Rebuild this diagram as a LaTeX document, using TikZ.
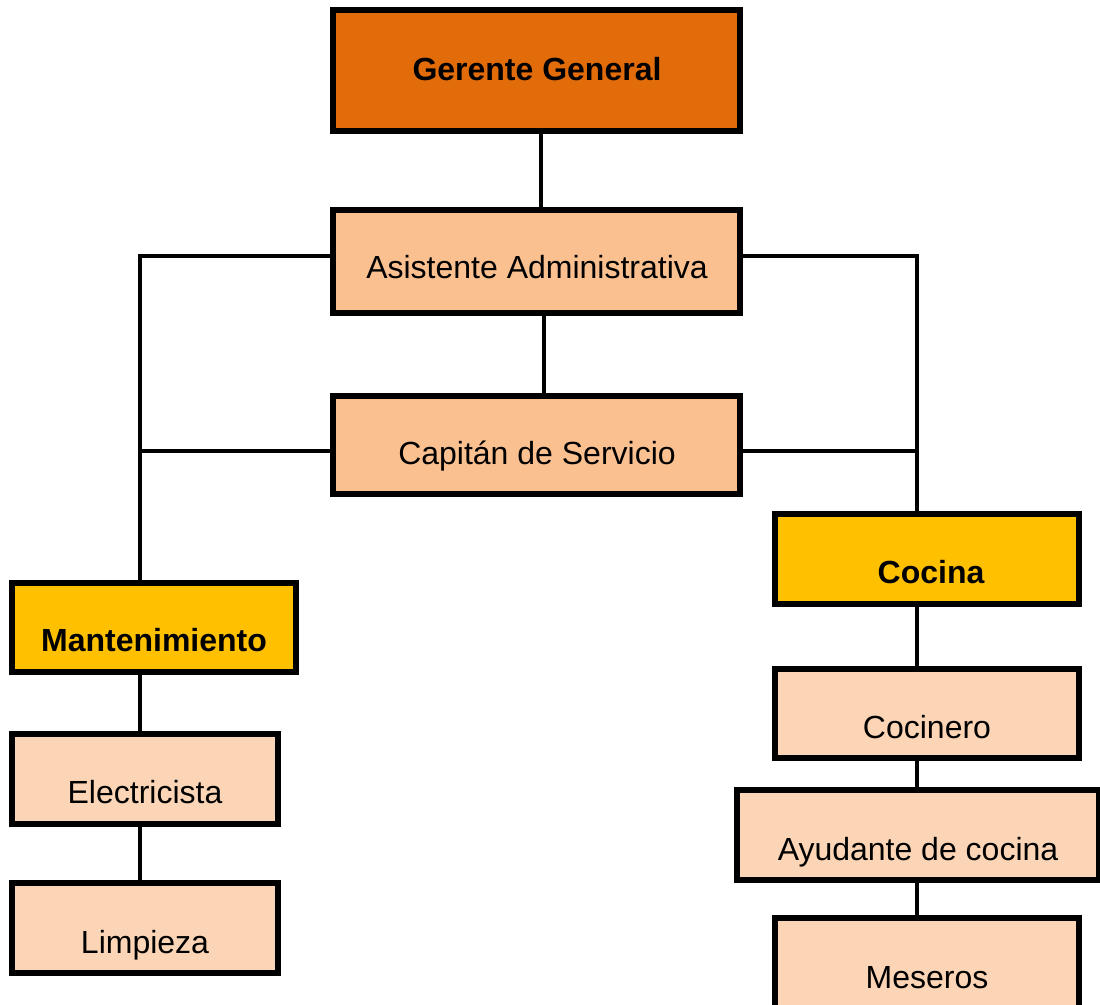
\documentclass[tikz,border=0pt]{standalone}
\usepackage{fontspec}
\setmainfont{Liberation Sans}
\usetikzlibrary{calc}
\definecolor{cDark}{HTML}{E36C0A}
\definecolor{cMid}{HTML}{FAC090}
\definecolor{cGold}{HTML}{FFC000}
\definecolor{cLight}{HTML}{FBD5B5}
\tikzset{
  box/.style={draw=black, line width=4pt, inner sep=0pt, rectangle},
  conn/.style={draw=black, line width=3.5pt},
  txt/.style={anchor=base, inner sep=0pt, font=\fontsize{32}{38}\selectfont},
  btxt/.style={txt, font=\fontsize{32}{38}\selectfont\bfseries}
}
\begin{document}
\begin{tikzpicture}[x=1pt,y=-1pt]
\clip (0,0) rectangle (1100,1004);
\fill[white] (0,0) rectangle (1100,1004);
\coordinate (L1) at (140,256);
\coordinate (L2) at (140,451);
\coordinate (R1) at (917,256);
\coordinate (R2) at (917,451);
% boxes (paths only, text later)
\path
  (536.5,70.5) node[box, fill=cDark, minimum width=405pt, minimum height=119pt] (gg) {}
  (536.5,261.5) node[box, fill=cMid, minimum width=405pt, minimum height=101pt] (aa) {}
  (536.5,445) node[box, fill=cMid, minimum width=405pt, minimum height=96pt] (cs) {}
  (154,627.5) node[box, fill=cGold, minimum width=282pt, minimum height=87pt] (mt) {}
  (145,779) node[box, fill=cLight, minimum width=264pt, minimum height=88pt] (el) {}
  (145,928) node[box, fill=cLight, minimum width=264pt, minimum height=88pt] (li) {}
  (927,559) node[box, fill=cGold, minimum width=302pt, minimum height=88pt] (co) {}
  (927,713.5) node[box, fill=cLight, minimum width=302pt, minimum height=87pt] (cn) {}
  (918,835) node[box, fill=cLight, minimum width=360pt, minimum height=88pt] (ay) {}
  (927,966) node[box, fill=cLight, minimum width=302pt, minimum height=94pt] (me) {};
% connectors
\draw[conn] ($(gg.south)+(4.5,0)$) -- ($(aa.north)+(4.5,0)$);
\draw[conn] ($(aa.south)+(7.5,0)$) -- ($(cs.north)+(7.5,0)$);
\draw[conn] (aa.west |- L1) -- (L1) -- (mt.north -| L1);
\draw[conn] (cs.west |- L2) -- (L2);
\draw[conn] (aa.east |- R1) -- (R1) -- (co.north -| R1);
\draw[conn] (cs.east |- R2) -- (R2);
\draw[conn] (mt.south -| L1) -- (el.north -| L1);
\draw[conn] (el.south -| L1) -- (li.north -| L1);
\draw[conn] (co.south -| R1) -- (cn.north -| R1);
\draw[conn] (cn.south -| R1) -- (ay.north -| R1);
\draw[conn] (ay.south -| R1) -- (me.north -| R1);
% redraw box outlines on top of connectors
\foreach \n in {gg,aa,cs,mt,el,li,co,cn,ay,me}{
  \draw[line width=4pt] (\n.north west) rectangle (\n.south east);
}
% texts
\node[btxt] (tgg) at (537,80) {Gerente General};
\node[txt] (taa) at (537,278) {Asistente Administrativa};
\node[txt] (tcs) at (537,464) {Capitán de Servicio};
\node[btxt] (tmt) at (154,651) {Mantenimiento};
\node[txt] (tel) at (145,803) {Electricista};
\node[txt] (tli) at (145,953) {Limpieza};
\node[btxt] (tco) at (931,583) {Cocina};
\node[txt] (tcn) at (927,738) {Cocinero};
\node[txt] (tay) at (918,860) {Ayudante de cocina};
\node[txt] (tme) at (927,988) {Meseros};
\end{tikzpicture}
\end{document}
